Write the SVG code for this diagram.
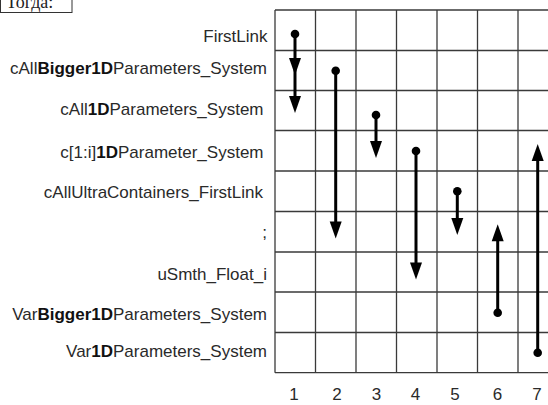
<svg xmlns="http://www.w3.org/2000/svg" xmlns:xlink="http://www.w3.org/1999/xlink" width="548" height="405" viewBox="0 0 548 405">
  <style>
    .lbl { font-family: "Liberation Sans", Arial, sans-serif; font-size: 17px; fill: #2a2a2a; text-anchor: end; }
    .num { font-family: "Liberation Sans", Arial, sans-serif; font-size: 17px; fill: #2a2a2a; text-anchor: middle; }
    .b { font-weight: bold; fill: #111; }
    .grid line { stroke: #3a3a3a; stroke-width: 1.3; }
    .conn line { stroke: #000; stroke-width: 3; }
    .conn circle, .conn use { fill: #000; }
  </style>
  <defs>
    <!-- arrowhead pointing down, tip at origin -->
    <path id="head" d="M-6,-17 L6,-17 L0,0 Z"/>
  </defs>

  <rect width="548" height="405" fill="#fff"/>

  <!-- caption box -->
  <g id="caption">
    <rect x="0.5" y="-1" width="71.5" height="13.5" fill="#fff" stroke="#333" stroke-width="1"/>
    <text x="6" y="8" font-family="'Liberation Serif', 'Times New Roman', serif" font-size="18" fill="#222">Тогда:</text>
  </g>

  <!-- grid -->
  <g class="grid" id="grid">
    <line x1="275" y1="10" x2="548" y2="10"/>
    <line x1="275" y1="50.5" x2="548" y2="50.5"/>
    <line x1="275" y1="90.5" x2="548" y2="90.5"/>
    <line x1="275" y1="130.5" x2="548" y2="130.5"/>
    <line x1="275" y1="171" x2="548" y2="171"/>
    <line x1="275" y1="211.5" x2="548" y2="211.5"/>
    <line x1="275" y1="252" x2="548" y2="252"/>
    <line x1="275" y1="292" x2="548" y2="292"/>
    <line x1="275" y1="332.5" x2="548" y2="332.5"/>
    <line x1="275" y1="372.7" x2="548" y2="372.7"/>
    <line x1="275" y1="10" x2="275" y2="372.7"/>
    <line x1="315.5" y1="10" x2="315.5" y2="372.7"/>
    <line x1="356" y1="10" x2="356" y2="372.7"/>
    <line x1="396.5" y1="10" x2="396.5" y2="372.7"/>
    <line x1="437" y1="10" x2="437" y2="372.7"/>
    <line x1="477.5" y1="10" x2="477.5" y2="372.7"/>
    <line x1="518" y1="10" x2="518" y2="372.7"/>
  </g>

  <!-- row labels -->
  <g id="row-firstlink"><text class="lbl" x="267.5" y="41.7">FirstLink</text></g>
  <g id="row-callbigger"><text class="lbl" x="267" y="74">cAll<tspan class="b">Bigger1D</tspan>Parameters_System</text></g>
  <g id="row-call1d"><text class="lbl" x="263.5" y="115">cAll<tspan class="b">1D</tspan>Parameters_System</text></g>
  <g id="row-c1i"><text class="lbl" x="263.5" y="158.3">c[1:i]<tspan class="b">1D</tspan>Parameter_System</text></g>
  <g id="row-cultra"><text class="lbl" x="263" y="198.3">cAllUltraContainers_FirstLink</text></g>
  <g id="row-semicolon"><text class="lbl" x="267" y="238">;</text></g>
  <g id="row-usmth"><text class="lbl" x="267" y="280">uSmth_Float_i</text></g>
  <g id="row-varbigger"><text class="lbl" x="267" y="320">Var<tspan class="b">Bigger1D</tspan>Parameters_System</text></g>
  <g id="row-var1d"><text class="lbl" x="267" y="356.7">Var<tspan class="b">1D</tspan>Parameters_System</text></g>

  <!-- column numbers -->
  <g id="col-numbers">
    <text class="num" x="294" y="400">1</text>
    <text class="num" x="337" y="400">2</text>
    <text class="num" x="376.5" y="400">3</text>
    <text class="num" x="415.5" y="400">4</text>
    <text class="num" x="455" y="400">5</text>
    <text class="num" x="497.5" y="400">6</text>
    <text class="num" x="537" y="400">7</text>
  </g>

  <!-- connectors -->
  <g class="conn" id="connectors">
    <g id="link-1">
      <line x1="295" y1="34" x2="295" y2="104"/>
      <circle cx="295" cy="34" r="4.3"/>
      <use xlink:href="#head" href="#head" x="295" y="75"/>
      <use xlink:href="#head" href="#head" x="295" y="113"/>
    </g>
    <g id="link-2">
      <line x1="335.7" y1="70.7" x2="335.7" y2="228"/>
      <circle cx="335.7" cy="70.7" r="4.3"/>
      <use xlink:href="#head" href="#head" x="335.7" y="238.5"/>
    </g>
    <g id="link-3">
      <line x1="376" y1="115" x2="376" y2="148"/>
      <circle cx="376" cy="115" r="4.3"/>
      <use xlink:href="#head" href="#head" x="376" y="158"/>
    </g>
    <g id="link-4">
      <line x1="416" y1="151" x2="416" y2="270"/>
      <circle cx="416" cy="151" r="4.3"/>
      <use xlink:href="#head" href="#head" x="416" y="279.5"/>
    </g>
    <g id="link-5">
      <line x1="457.3" y1="191.3" x2="457.3" y2="225"/>
      <circle cx="457.3" cy="191.3" r="4.3"/>
      <use xlink:href="#head" href="#head" x="457.3" y="235"/>
    </g>
    <g id="link-6">
      <line x1="497.7" y1="312.7" x2="497.7" y2="234"/>
      <circle cx="497.7" cy="312.7" r="4.3"/>
      <use xlink:href="#head" href="#head" transform="translate(497.7 224.3) rotate(180)"/>
    </g>
    <g id="link-7">
      <line x1="537.7" y1="352.7" x2="537.7" y2="154"/>
      <circle cx="537.7" cy="352.7" r="4.3"/>
      <use xlink:href="#head" href="#head" transform="translate(537.7 144) rotate(180)"/>
    </g>
  </g>
</svg>
